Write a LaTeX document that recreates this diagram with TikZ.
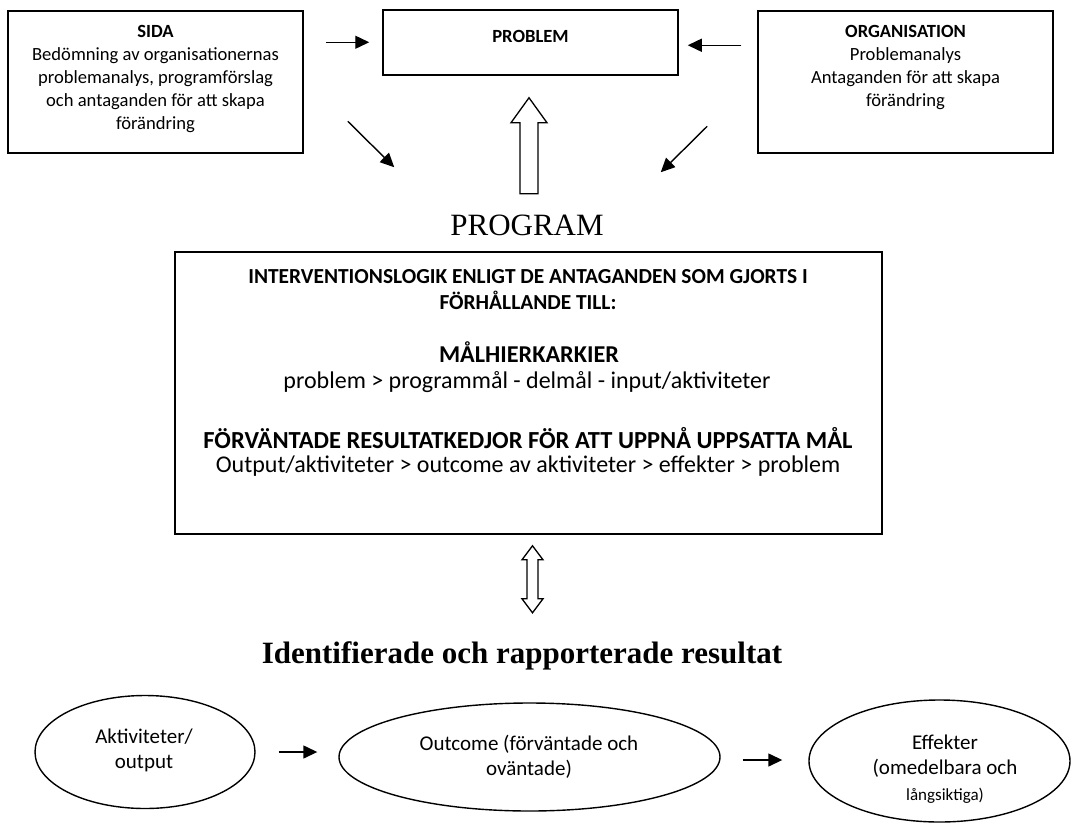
\documentclass[tikz,border=0pt]{standalone}
\usepackage{fontspec}
\setmainfont{Carlito}
\newfontfamily\gar{Liberation Serif}
\usetikzlibrary{arrows.meta,shapes.geometric}
\begin{document}
\begin{tikzpicture}[x=1pt,y=-1pt,
  box/.style={draw,line width=1.5pt,inner sep=0pt},
  ell/.style={draw,ellipse,line width=1.4pt,inner sep=0pt},
  conn/.style={line width=1.4pt,-{Triangle[length=14pt,width=13pt]}},
  blockarrow/.style={draw,line width=1.3pt,line join=miter,fill=white},
  txt/.style={align=center,inner sep=0pt,font=\fontsize{18.6}{23}\selectfont},
  mtxt/.style={align=center,inner sep=0pt,font=\fontsize{24}{26}\selectfont},
  etxt/.style={align=center,inner sep=0pt,font=\fontsize{21}{25.5}\selectfont}]
\useasboundingbox (0,0) rectangle (1072,823);

% top boxes
\node[box,minimum width=295pt,minimum height=142pt] (sida) at (155.5,82) {};
\node[box,minimum width=295pt,minimum height=65pt] (prob) at (530.5,42.5) {};
\node[box,minimum width=295pt,minimum height=142pt] (org) at (905.5,82) {};
\node[txt] (sidat) at (155.5,79) {\textbf{SIDA}\\Bedömning av organisationernas\\problemanalys, programförslag\\och antaganden för att skapa\\förändring};
\node[txt] (probt) at (530.5,36) {\textbf{PROBLEM}};
\node[txt] (orgt) at (905.5,67.5) {\textbf{ORGANISATION}\\Problemanalys\\Antaganden för att skapa\\förändring};

% program box
\node[font=\gar\fontsize{31}{36}\selectfont,inner sep=0pt] (progl) at (527,225) {PROGRAM};
\node[box,minimum width=707pt,minimum height=282pt] (prog) at (528.5,393) {};
\node[mtxt,font=\bfseries\fontsize{21.4}{26}\selectfont] (p1) at (528,290) {INTERVENTIONSLOGIK ENLIGT DE ANTAGANDEN SOM GJORTS I\\FÖRHÅLLANDE TILL:};
\node[mtxt,font=\bfseries\fontsize{24.2}{30}\selectfont] (p2) at (529,352) {MÅLHIERKARKIER};
\node[mtxt,font=\fontsize{24}{26}\selectfont] (p3) at (527,382) {problem > programmål - delmål - input/aktiviteter};
\node[mtxt,font=\bfseries\fontsize{24.5}{28}\selectfont] (p4) at (528,438) {FÖRVÄNTADE RESULTATKEDJOR FÖR ATT UPPNÅ UPPSATTA MÅL};
\node[mtxt,font=\fontsize{24}{26}\selectfont] (p5) at (528,466) {Output/aktiviteter > outcome av aktiviteter > effekter > problem};

% arrows at top
\draw[conn] ([shift={(22,32)}]sida.north east) -- ([shift={(-13,33)}]prob.north west);
\draw[conn] ([shift={(-16,35)}]org.north west) -- ([shift={(9,36)}]prob.north east);
\draw[conn] ([shift={(44,111)}]sida.north east) -- ([shift={(220,-84)}]prog.north west);
\draw[conn] ([shift={(-50,116)}]org.north west) -- ([shift={(-222,-79)}]prog.north east);

% block arrow up (program -> problem)
\coordinate (uptip) at ([shift={(-1.5,22)}]prob.south);
\draw[blockarrow] (uptip) -- ++(18,25) -- ++(-9,0) -- ++(0,71) -- ++(-18,0) -- ++(0,-71) -- ++(-9,0) -- cycle;

% double block arrow
\coordinate (dtop) at ([shift={(4,11)}]prog.south);
\draw[blockarrow] (dtop) -- ++(10.5,14) -- ++(-5,0) -- ++(0,39) -- ++(5,0) -- ++(-10.5,14)
  -- ++(-10.5,-14) -- ++(5,0) -- ++(0,-39) -- ++(-5,0) -- cycle;

% title
\node[font=\gar\bfseries\fontsize{31}{36}\selectfont,inner sep=0pt] (title) at (522,656) {Identifierade och rapporterade resultat};

% ellipses
\node[ell,minimum width=220pt,minimum height=113pt] (e1) at (145,752) {};
\node[ell,minimum width=381pt,minimum height=108pt] (e2) at (529.5,757) {};
\node[ell,minimum width=261pt,minimum height=122pt] (e3) at (939.5,761) {};
\node[etxt] (e1t) at (144,750.5) {Aktiviteter/\\output};
\node[etxt] (e2t) at (529,757) {Outcome (förväntade och\\oväntade)};
\node[etxt] (e3t) at (945,769) {Effekter\\(omedelbara och\\{\fontsize{17}{20}\selectfont långsiktiga)}};

\coordinate (a1s) at ([xshift=23pt]e1.east);
\coordinate (a2s) at ([shift={(22,3)}]e2.east);
\draw[conn] (a1s) -- ([xshift=-21pt]e2.west |- a1s);
\draw[conn] (a2s) -- ([xshift=-26pt]e3.west |- a2s);
\end{tikzpicture}
\end{document}
